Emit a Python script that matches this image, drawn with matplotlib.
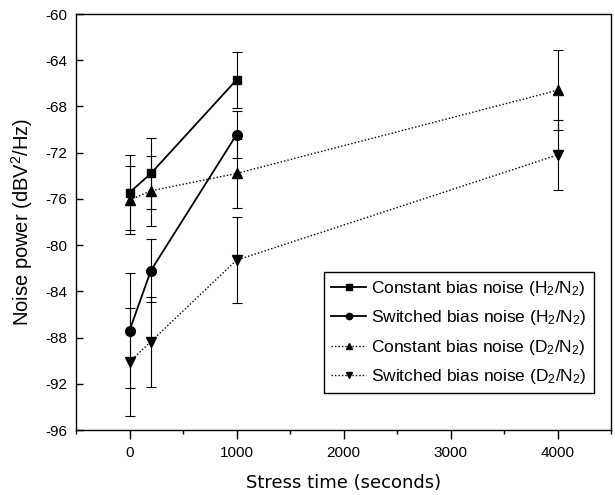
import matplotlib
matplotlib.use('Agg')
import matplotlib.pyplot as plt
from matplotlib.ticker import MultipleLocator

plt.rcParams['font.family'] = ['Liberation Sans', 'DejaVu Sans']
plt.rcParams['axes.unicode_minus'] = False
plt.rcParams['mathtext.fontset'] = 'custom'
plt.rcParams['mathtext.rm'] = 'Liberation Sans'
plt.rcParams['mathtext.it'] = 'Liberation Sans:italic'
plt.rcParams['mathtext.default'] = 'regular'

# stress time (s)
t_h2 = [0, 200, 1000]
t_d2 = [0, 200, 1000, 4000]

const_h2 = [-75.45, -73.8, -65.7]
const_h2_err = [3.25, 3.1, 2.45]
switch_h2 = [-87.4, -82.2, -70.45]
switch_h2_err = [5.0, 2.7, 2.05]
const_d2 = [-76.1, -75.3, -73.8, -66.6]
const_d2_err = [2.95, 3.05, 2.95, 3.45]
switch_d2 = [-90.1, -88.35, -81.3, -72.2]
switch_d2_err = [4.7, 3.9, 3.7, 3.0]

labels = ['Constant bias noise (H$_2$/N$_2$)',
          'Switched bias noise (H$_2$/N$_2$)',
          'Constant bias noise (D$_2$/N$_2$)',
          'Switched bias noise (D$_2$/N$_2$)']

fig = plt.figure(figsize=(6.15, 4.95), dpi=100)
ax = fig.add_axes([0.1236, 0.1313, 0.8699, 0.8404])

eb = dict(ecolor='black', elinewidth=0.8, capsize=3.6, capthick=0.8, color='black')
dot = (0, (1, 1.5))
c1 = ax.errorbar(t_h2, const_h2, yerr=const_h2_err, marker='s', ms=6, ls='-', lw=1.3, **eb)
c2 = ax.errorbar(t_h2, switch_h2, yerr=switch_h2_err, marker='o', ms=7, ls='-', lw=1.3, **eb)
c3 = ax.errorbar(t_d2, const_d2, yerr=const_d2_err, marker='^', ms=7.5, ls=dot, lw=1.0, **eb)
c4 = ax.errorbar(t_d2, switch_d2, yerr=switch_d2_err, marker='v', ms=7.5, ls=dot, lw=1.0, **eb)

ax.set_xlim(-500, 4500)
ax.set_ylim(-96, -60)
ax.xaxis.set_major_locator(MultipleLocator(1000))
ax.xaxis.set_minor_locator(MultipleLocator(500))
ax.yaxis.set_major_locator(MultipleLocator(4))
ax.tick_params(axis='x', which='major', direction='out', length=6.5, width=1, labelsize=11, pad=5)
ax.tick_params(axis='x', which='minor', direction='out', length=3, width=1)
ax.tick_params(axis='y', which='major', direction='in', length=5, width=1, labelsize=11, pad=6)
for s in ax.spines.values():
    s.set_linewidth(1.0)

ax.set_xlabel('Stress time (seconds)', fontsize=13, family='DejaVu Sans', labelpad=10)
ax.set_ylabel('Noise power (dBV$^2$/Hz)', fontsize=14.5, labelpad=8)

handles = [c1[0], c2[0], c3[0], c4[0]]
leg = ax.legend(handles, labels, loc='lower right', bbox_to_anchor=(0.968, 0.089), fontsize=12.5,
                frameon=True, fancybox=False, edgecolor='black', framealpha=1,
                borderpad=0.4, handlelength=2.0, handletextpad=0.3,
                labelspacing=0.6, markerscale=0.65, borderaxespad=0)
leg.get_frame().set_linewidth(1.0)

fig.savefig('out.png', dpi=100)
